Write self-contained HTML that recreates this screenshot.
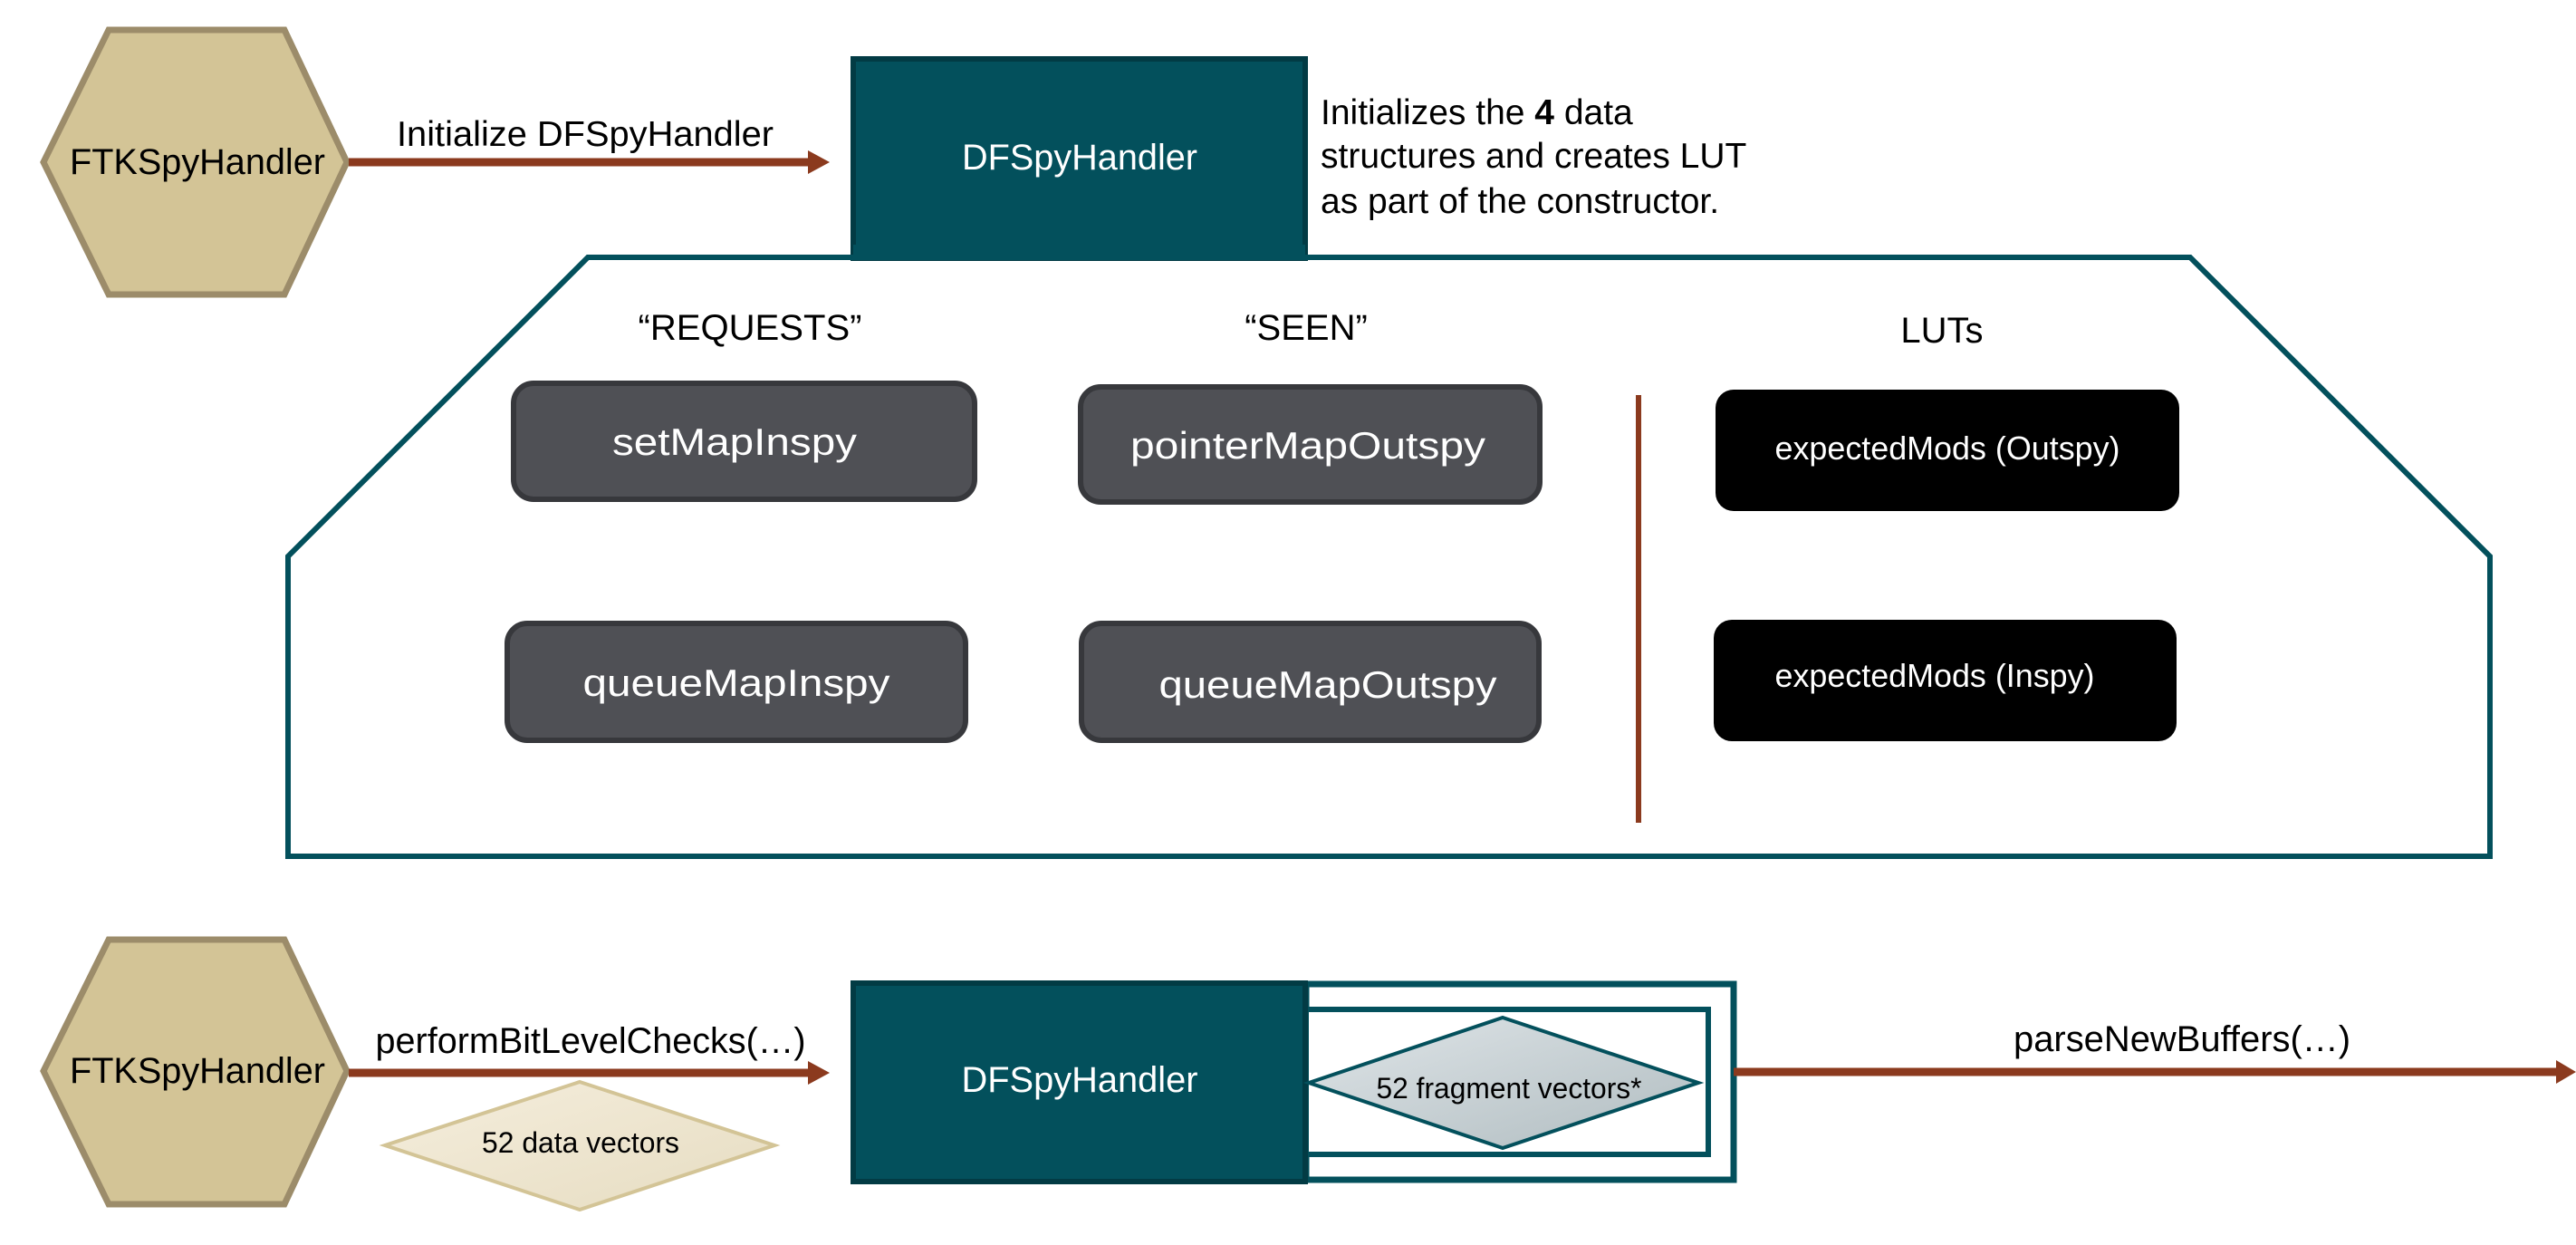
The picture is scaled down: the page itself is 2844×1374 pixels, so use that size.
<!DOCTYPE html>
<html><head><meta charset="utf-8"><style>
html,body{margin:0;padding:0;background:#fff;}
svg{display:block;}
text{font-family:"Liberation Sans",Arial,sans-serif;}
</style></head><body>
<svg width="2844" height="1374" viewBox="0 0 2844 1374" xmlns="http://www.w3.org/2000/svg">
<defs>
<linearGradient id="gb" x1="0" y1="0" x2="1" y2="1"><stop offset="0" stop-color="#f5eedd"/><stop offset="1" stop-color="#e6dcc1"/></linearGradient>
<linearGradient id="gg" x1="0" y1="0" x2="1" y2="1"><stop offset="0" stop-color="#dfe5e8"/><stop offset="1" stop-color="#b0bcc0"/></linearGradient>
</defs>

<!-- top hexagon -->
<polygon points="120,33 314,33 383,179 314,325 120,325 48,179" fill="#d3c496" stroke="#9c8c6a" stroke-width="7"/>
<text x="218" y="192" font-size="40" text-anchor="middle" textLength="282" lengthAdjust="spacingAndGlyphs">FTKSpyHandler</text>

<!-- arrow 1 -->
<line x1="385" y1="179" x2="895" y2="179" stroke="#8b3a1e" stroke-width="9"/>
<polygon points="892,166 916,179 892,192" fill="#8b3a1e"/>
<text x="646" y="161" font-size="39" text-anchor="middle" textLength="416" lengthAdjust="spacingAndGlyphs">Initialize DFSpyHandler</text>

<!-- top DF box -->
<rect x="942" y="65" width="499" height="220" fill="#03505c" stroke="#023b44" stroke-width="6"/>
<text x="1192" y="187" font-size="40" fill="#fff" text-anchor="middle" textLength="260" lengthAdjust="spacingAndGlyphs">DFSpyHandler</text>

<text font-size="39" x="1458" y="137">Initializes the <tspan font-weight="bold">4</tspan> data</text>
<text font-size="39" x="1458" y="185">structures and creates LUT</text>
<text font-size="39" x="1458" y="235">as part of the constructor.</text>

<!-- big polygon -->
<polygon points="649,284 2418,284 2749,614 2749,945 318,945 318,614" fill="none" stroke="#03505c" stroke-width="6"/>
<rect x="942" y="270" width="499" height="15" fill="#03505c"/>

<text x="828" y="375" font-size="40" text-anchor="middle" textLength="247" lengthAdjust="spacingAndGlyphs">“REQUESTS”</text>
<text x="1442" y="375" font-size="40" text-anchor="middle">“SEEN”</text>
<text x="2144" y="378" font-size="40" text-anchor="middle">LUTs</text>

<!-- grey boxes -->
<rect x="567" y="423" width="509" height="128" rx="22" fill="#4f5055" stroke="#37383c" stroke-width="6"/>
<text x="811" y="502" font-size="42" fill="#fff" text-anchor="middle" textLength="270" lengthAdjust="spacingAndGlyphs">setMapInspy</text>
<rect x="1193" y="427" width="507" height="127" rx="22" fill="#4f5055" stroke="#37383c" stroke-width="6"/>
<text x="1444" y="506" font-size="42" fill="#fff" text-anchor="middle" textLength="392" lengthAdjust="spacingAndGlyphs">pointerMapOutspy</text>
<rect x="560" y="688" width="506" height="129" rx="22" fill="#4f5055" stroke="#37383c" stroke-width="6"/>
<text x="813" y="768" font-size="42" fill="#fff" text-anchor="middle" textLength="339" lengthAdjust="spacingAndGlyphs">queueMapInspy</text>
<rect x="1194" y="688" width="505" height="129" rx="22" fill="#4f5055" stroke="#37383c" stroke-width="6"/>
<text x="1466" y="770" font-size="42" fill="#fff" text-anchor="middle" textLength="373" lengthAdjust="spacingAndGlyphs">queueMapOutspy</text>

<!-- divider -->
<line x1="1809" y1="436" x2="1809" y2="908" stroke="#8b3a1e" stroke-width="6"/>

<!-- black boxes -->
<rect x="1894" y="430" width="512" height="134" rx="20" fill="#000"/>
<text x="2150" y="507" font-size="36" fill="#fff" text-anchor="middle" textLength="381" lengthAdjust="spacingAndGlyphs">expectedMods (Outspy)</text>
<rect x="1892" y="684" width="511" height="134" rx="20" fill="#000"/>
<text x="2136" y="758" font-size="36" fill="#fff" text-anchor="middle" textLength="353" lengthAdjust="spacingAndGlyphs">expectedMods (Inspy)</text>

<!-- bottom hexagon -->
<polygon points="120,1037 314,1037 383,1182 314,1329 120,1329 48,1182" fill="#d3c496" stroke="#9c8c6a" stroke-width="7"/>
<text x="218" y="1195" font-size="40" text-anchor="middle" textLength="282" lengthAdjust="spacingAndGlyphs">FTKSpyHandler</text>

<!-- arrow 2 -->
<line x1="385" y1="1184" x2="895" y2="1184" stroke="#8b3a1e" stroke-width="9"/>
<polygon points="892,1171 916,1184 892,1197" fill="#8b3a1e"/>
<text x="652" y="1162" font-size="40" text-anchor="middle" textLength="475" lengthAdjust="spacingAndGlyphs">performBitLevelChecks(…)</text>

<!-- data vectors diamond -->
<polygon points="640,1194 855,1264 640,1335 425,1264" fill="url(#gb)" stroke="#d3c496" stroke-width="4"/>
<text x="641" y="1272" font-size="32" text-anchor="middle" textLength="218" lengthAdjust="spacingAndGlyphs">52 data vectors</text>

<!-- bottom DF box -->
<rect x="1442" y="1086" width="472" height="216" fill="#fff" stroke="#03505c" stroke-width="7"/>
<rect x="1442" y="1114" width="444" height="160" fill="#fff" stroke="#03505c" stroke-width="6"/>
<rect x="942" y="1085" width="499" height="219" fill="#03505c" stroke="#023b44" stroke-width="6"/>
<text x="1192" y="1205" font-size="40" fill="#fff" text-anchor="middle" textLength="261" lengthAdjust="spacingAndGlyphs">DFSpyHandler</text>

<polygon points="1659,1123 1875,1195 1659,1267 1445,1195" fill="url(#gg)" stroke="#03505c" stroke-width="4"/>
<text x="1666" y="1212" font-size="32" text-anchor="middle" textLength="293" lengthAdjust="spacingAndGlyphs">52 fragment vectors*</text>

<!-- arrow 3 -->
<line x1="1914" y1="1183" x2="2824" y2="1183" stroke="#8b3a1e" stroke-width="9"/>
<polygon points="2822,1170 2844,1183 2822,1196" fill="#8b3a1e"/>
<text x="2409" y="1160" font-size="40" text-anchor="middle" textLength="372" lengthAdjust="spacingAndGlyphs">parseNewBuffers(…)</text>
</svg>
</body></html>
